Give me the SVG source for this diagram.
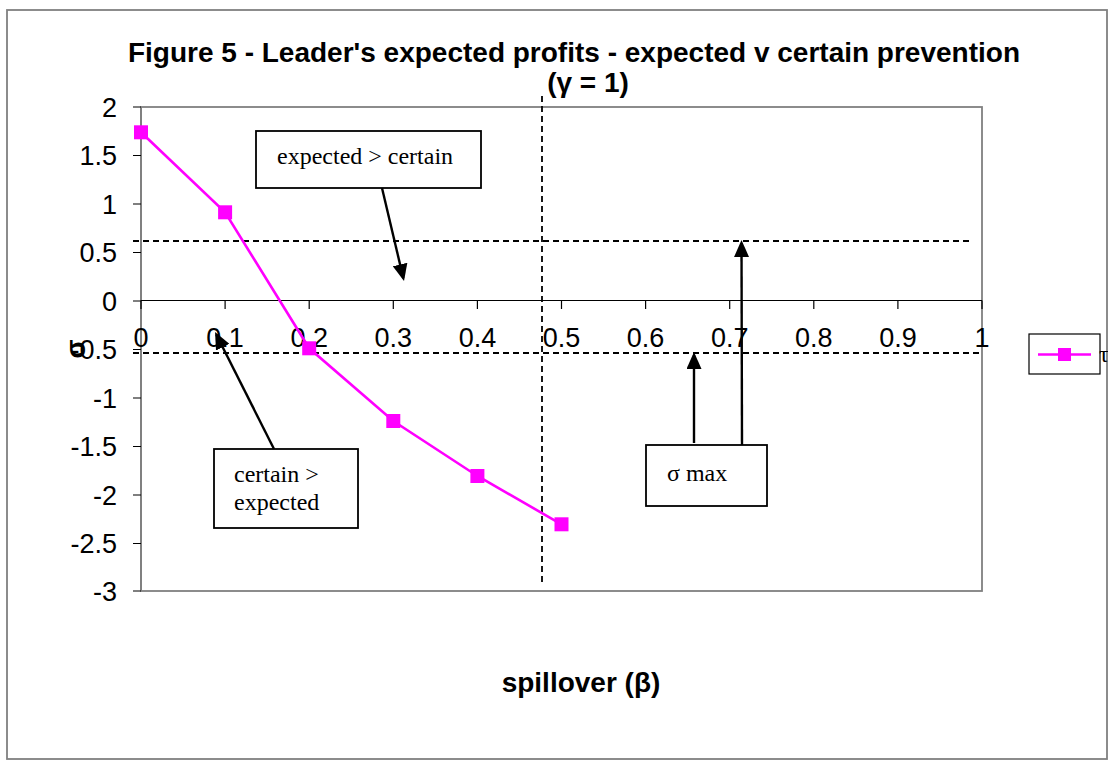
<svg xmlns="http://www.w3.org/2000/svg" width="1108" height="760" viewBox="0 0 1108 760">
  <style>
    .lbl { font-family: "Liberation Sans", Arial, sans-serif; font-size: 27px; fill: #000; }
    .ttl { font-family: "Liberation Sans", Arial, sans-serif; font-size: 28px; font-weight: bold; fill: #000; }
    .note { font-family: "Liberation Serif", "Times New Roman", serif; font-size: 24px; fill: #000; }
    .frame { fill: none; stroke: #808080; stroke-width: 1.8; }
    .axis { fill: none; stroke: #000; stroke-width: 1.2; }
    .guide { fill: none; stroke: #000; stroke-width: 1.8; stroke-dasharray: 6 4; }
    .box { fill: #fff; stroke: #000; stroke-width: 1.8; }
    .arrow { fill: none; stroke: #000; stroke-width: 2.4; marker-end: url(#head); }
    .series { fill: none; stroke: #ff00ff; stroke-width: 2.6; }
    .pt { fill: #ff00ff; }
  </style>
  <defs>
    <marker id="head" markerUnits="userSpaceOnUse" markerWidth="17" markerHeight="15" viewBox="0 0 17 15" refX="14" refY="7.5" orient="auto">
      <path d="M0,0 L17,7.5 L0,15 z" fill="#000"/>
    </marker>
  </defs>

  <rect width="1108" height="760" fill="#fff"/>

  <!-- chart area border -->
  <rect x="7" y="10" width="1100" height="749" class="frame"/>

  <!-- title -->
  <g id="title">
    <text class="ttl" x="574" y="62" text-anchor="middle">Figure 5 - Leader's expected profits - expected v certain prevention</text>
    <text class="ttl" x="588" y="92" text-anchor="middle">(γ = 1)</text>
  </g>

  <!-- plot area -->
  <g id="plot">
    <rect x="141" y="107" width="841" height="484" class="frame"/>
    <line x1="141" y1="107" x2="141" y2="591" stroke="#808080" stroke-width="2"/>
    <!-- y ticks -->
    <path class="axis" d="M133,107H141M133,155.5H141M133,204H141M133,252.5H141M133,301H141M133,349.5H141M133,398H141M133,446.5H141M133,495H141M133,543.5H141M133,591H141"/>
    <!-- x axis at zero with ticks -->
    <path class="axis" d="M141,300.5H982M141,300.5V309M225.1,300.5V309M309.2,300.5V309M393.3,300.5V309M477.4,300.5V309M561.5,300.5V309M645.6,300.5V309M729.7,300.5V309M813.8,300.5V309M897.9,300.5V309M982,300.5V309"/>
  </g>

  <g id="y-labels" class="lbl" text-anchor="end">
    <text x="117" y="117">2</text>
    <text x="117" y="165">1.5</text>
    <text x="117" y="214">1</text>
    <text x="117" y="262">0.5</text>
    <text x="117" y="311">0</text>
    <text x="117" y="359">-0.5</text>
    <text x="117" y="408">-1</text>
    <text x="117" y="456">-1.5</text>
    <text x="117" y="505">-2</text>
    <text x="117" y="553">-2.5</text>
    <text x="117" y="601">-3</text>
  </g>

  <g id="x-labels" class="lbl" text-anchor="middle">
    <text x="141" y="347">0</text>
    <text x="225.1" y="347">0.1</text>
    <text x="309.2" y="347">0.2</text>
    <text x="393.3" y="347">0.3</text>
    <text x="477.4" y="347">0.4</text>
    <text x="561.5" y="347">0.5</text>
    <text x="645.6" y="347">0.6</text>
    <text x="729.7" y="347">0.7</text>
    <text x="813.8" y="347">0.8</text>
    <text x="897.9" y="347">0.9</text>
    <text x="982" y="347">1</text>
  </g>

  <!-- axis titles -->
  <text id="y-title" class="ttl" transform="translate(85,349) rotate(-90)" text-anchor="middle">σ</text>
  <text id="x-title" class="ttl" x="581" y="692" text-anchor="middle">spillover (β)</text>

  <!-- reference lines -->
  <g id="guides">
    <line class="guide" x1="133" y1="241" x2="972" y2="241"/>
    <line class="guide" x1="133" y1="353" x2="982" y2="353"/>
    <line class="guide" x1="542" y1="96" x2="542" y2="586"/>
  </g>

  <!-- data series -->
  <g id="series-tau">
    <polyline class="series" points="141,132.3 225.1,212.3 309.2,348.3 393.3,421 477.4,476 561.5,524.3"/>
    <rect class="pt" x="134" y="125.3" width="14" height="14"/>
    <rect class="pt" x="218.1" y="205.3" width="14" height="14"/>
    <rect class="pt" x="302.2" y="341.3" width="14" height="14"/>
    <rect class="pt" x="386.3" y="414" width="14" height="14"/>
    <rect class="pt" x="470.4" y="469" width="14" height="14"/>
    <rect class="pt" x="554.5" y="517.3" width="14" height="14"/>
  </g>

  <!-- callout boxes -->
  <g id="note-expected">
    <rect class="box" x="256" y="131" width="225" height="57"/>
    <text class="note" x="277" y="164">expected &gt; certain</text>
  </g>
  <g id="note-certain">
    <rect class="box" x="214" y="449" width="144" height="79"/>
    <text class="note" x="234" y="482">certain &gt;</text>
    <text class="note" x="234" y="510">expected</text>
  </g>
  <g id="note-sigma">
    <rect class="box" x="646" y="445" width="121" height="61"/>
    <text class="note" x="667" y="481">σ max</text>
  </g>

  <!-- callout arrows -->
  <g id="connectors">
    <line class="arrow" x1="382" y1="188" x2="403.3" y2="278.1"/>
    <line class="arrow" x1="274" y1="449" x2="216.4" y2="334.7"/>
    <line class="arrow" x1="694" y1="443" x2="694" y2="355"/>
    <line class="arrow" x1="742" y1="445" x2="741.5" y2="243"/>
  </g>

  <!-- legend -->
  <g id="legend">
    <rect x="1029" y="334" width="71" height="40" fill="#fff" stroke="#000" stroke-width="1.2"/>
    <line x1="1038" y1="354.5" x2="1091" y2="354.5" stroke="#ff00ff" stroke-width="2.6"/>
    <rect class="pt" x="1058" y="348" width="13" height="13"/>
    <text class="note" x="1099" y="362" font-size="22">τ</text>
  </g>
</svg>
